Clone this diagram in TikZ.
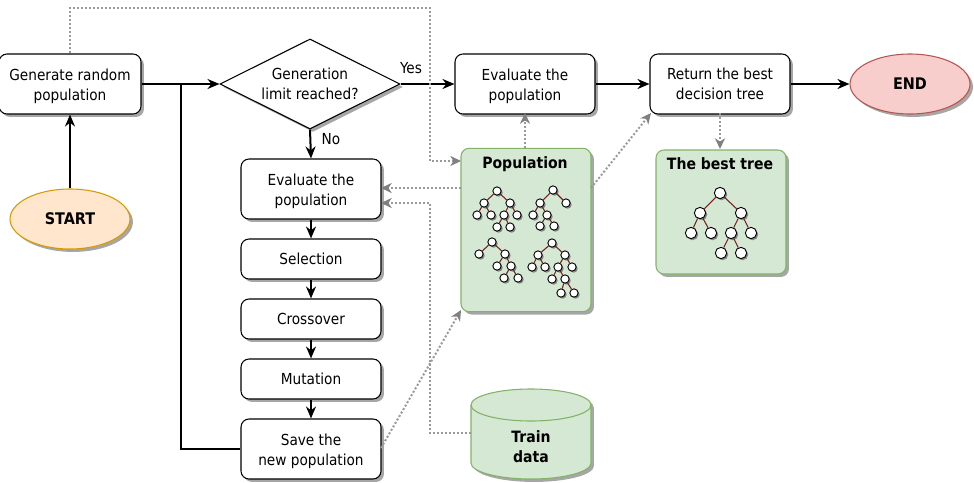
\documentclass[tikz,border=0pt]{standalone}
\usepackage{fontspec}
\setmainfont{DejaVu Sans Condensed}
\usetikzlibrary{arrows.meta,shadows,shapes.geometric}
\definecolor{grn}{HTML}{D5E8D4}
\definecolor{grnb}{HTML}{82B366}
\definecolor{org}{HTML}{FFE6CC}
\definecolor{orgb}{HTML}{D79B00}
\definecolor{rd}{HTML}{F8CECC}
\definecolor{rdb}{HTML}{B85450}
\definecolor{dotc}{HTML}{999999}
\definecolor{tipc}{HTML}{808080}
\definecolor{edgeb}{HTML}{7A1F1F}
\newcommand{\txt}{\fontsize{11.4pt}{15pt}\selectfont}
\newcommand{\bld}{\fontsize{11.7pt}{15pt}\selectfont\bfseries}
\newcommand{\ovl}{\fontsize{12pt}{15pt}\selectfont\bfseries}
\tikzset{
 x=0.75pt,y=-0.75pt,
 shade1/.style={drop shadow={shadow xshift=2.2pt,shadow yshift=-2.2pt,fill=black,opacity=0.35}},
 proc/.style={draw=black,fill=white,rounded corners=6pt,line width=0.8pt,shade1,inner sep=0pt},
 lab/.style={align=center,font=\txt,inner sep=0pt},
 panel/.style={draw=grnb,fill=grn,rounded corners=6pt,line width=0.8pt,shade1,inner sep=0pt},
 oval/.style={ellipse,line width=0.8pt,inner sep=0pt,font=\ovl,shade1},
 flow/.style={-{Stealth[length=9pt,width=7.5pt]},line width=1.5pt,black},
 flowplain/.style={line width=1.5pt,black},
 dots/.style={dotc,line width=1.5pt,dash pattern=on 1.5pt off 1.5pt},
 dotar/.style={dots,-{Stealth[length=8pt,width=7.5pt,color=tipc,fill=tipc,inset=2.4pt]}},
 tn/.style={circle,draw=black,fill=white,line width=0.7pt,minimum size=#1,inner sep=0pt,drop shadow={shadow xshift=1.2pt,shadow yshift=-1.2pt,fill=black,opacity=0.4}},
 te/.style={edgeb,line width=0.8pt},
 ttl/.style={font=\bld,inner sep=0pt,align=center},
}
\begin{document}
\begin{tikzpicture}
\useasboundingbox (0,0) rectangle (974,482);
% boxes
\node[proc,minimum width=106.5pt,minimum height=45pt] (gen) at (70,84) {};
\node[lab] (gent) at (70,86) {Generate random\\population};
\node[oval,draw=orgb,fill=org,minimum width=90pt,minimum height=45pt] (start) at (70,219) {START};
\node[diamond,aspect=2,draw=black,fill=white,line width=0.8pt,inner sep=0pt,minimum width=135pt,minimum height=67.5pt,shade1] (dec) at (310,84) {};
\node[lab] (dect) at (310,84) {Generation\\limit reached?};
\node[proc,minimum width=105pt,minimum height=45pt] (ev1) at (311,189) {};
\node[lab] (ev1t) at (311,191) {Evaluate the\\population};
\node[proc,minimum width=105pt,minimum height=30pt] (sel) at (311,259) {};
\node[lab] (selt) at (311,259) {Selection};
\node[proc,minimum width=105pt,minimum height=30pt] (cro) at (311,319) {};
\node[lab] (crot) at (311,319) {Crossover};
\node[proc,minimum width=105pt,minimum height=30pt] (mut) at (311,379) {};
\node[lab] (mutt) at (311,379) {Mutation};
\node[proc,minimum width=105pt,minimum height=45pt] (sav) at (311,449) {};
\node[lab] (savt) at (311,451) {Save the\\new population};
\node[proc,minimum width=105pt,minimum height=45pt] (ev2) at (525,84) {};
\node[lab] (ev2t) at (525,86) {Evaluate the\\population};
\node[proc,minimum width=105pt,minimum height=45pt] (ret) at (720,84) {};
\node[lab] (rett) at (720,84) {Return the best\\decision tree};
\node[oval,draw=rdb,fill=rd,minimum width=90pt,minimum height=45pt] (endn) at (910,84) {END};
\node[panel,minimum width=97.5pt,minimum height=122.5pt] (pop) at (526,230) {};
\node[ttl] (popt) at (525,164) {Population};
\node[panel,minimum width=97.5pt,minimum height=93pt] (best) at (721,212) {};
\node[ttl] (bestt) at (720,164) {The best tree};
% cylinder
\path[draw=grnb,fill=grn,line width=0.8pt,shade1] (471,405) arc[start angle=180,end angle=360,x radius=60,y radius=16] -- (591,463) arc[start angle=0,end angle=180,x radius=60,y radius=16] -- cycle;
\draw[grnb,line width=0.8pt] (471,405) arc[start angle=180,end angle=0,x radius=60,y radius=16];
\node[ttl] (tr) at (531,447) {Train\\data};
\coordinate (trl) at (471,433);
% solid flows
\draw[flow] (start) -- (gen);
\draw[flow] (gen.east) -- (dec.west);
\draw[flowplain,line join=miter] (sav.west) -- (181,449) -- (181,84);
\draw[flow] (dec.east) -- (ev2.west);
\draw[flow] (ev2) -- (ret);
\draw[flow] (ret) -- (endn);
\draw[flow] (dec.south) -- (ev1.north);
\draw[flow] (ev1) -- (sel);
\draw[flow] (sel) -- (cro);
\draw[flow] (cro) -- (mut);
\draw[flow] (mut) -- (sav);
\node[lab] (yes) at (411,68) {Yes};
\node[lab] (no) at (331,139) {No};
% dotted
\coordinate (c1) at (70,8); \coordinate (c2) at (430,8); \coordinate (c3) at (430,161);
\coordinate (c4) at (430,433); \coordinate (c5) at (430,203);
\coordinate (pl1) at (461,161); \coordinate (pl2) at (461,188); \coordinate (el1) at (381,203); \coordinate (el2) at (381,188);
\coordinate (pb) at (461,310); \coordinate (sr) at (381,448);
\coordinate (rb) at (651,113); \coordinate (pr) at (591,188);
\coordinate (et) at (525,113); \coordinate (pt) at (525,148);
\coordinate (rt) at (720,113); \coordinate (bt) at (720,149);
\draw[dotar] (gen.north) -- (c1) -- (c2) -- (c3) -- (pl1);
\draw[dotar] (pl2) -- (el2);
\draw[dotar] (trl) -- (c4) -- (c5) -- (el1);
\draw[dotar] (sr) -- (pb);
\draw[dotar] (pt) -- (et);
\draw[dotar] (pr) -- (rb);
\draw[dotar] (rt) -- (bt);
% trees
\newcommand{\T}[3]{\node[tn=#3] (#1) at #2 {};}
\def\s{6.2pt}
\T{a1}{(497,191)}{\s}\T{a2}{(484,203)}{\s}\T{a3}{(510,203)}{\s}\T{a4}{(477,215)}{\s}\T{a5}{(491,215)}{\s}\T{a6}{(504,215)}{\s}\T{a7}{(517,215)}{\s}\T{a8}{(497,227)}{\s}\T{a9}{(510,227)}{\s}
\foreach \p/\q in {a1/a2,a1/a3,a2/a4,a2/a5,a3/a6,a3/a7,a6/a8,a6/a9}{\draw[te] (\p) -- (\q);}
\T{b1}{(553,190)}{\s}\T{b2}{(540,203)}{\s}\T{b3}{(566,203)}{\s}\T{b4}{(533,215)}{\s}\T{b5}{(547,215)}{\s}\T{b6}{(540,226)}{\s}\T{b7}{(554,226)}{\s}
\foreach \p/\q in {b1/b2,b1/b3,b2/b4,b2/b5,b5/b6,b5/b7}{\draw[te] (\p) -- (\q);}
\T{c1n}{(492,242)}{\s}\T{c2n}{(479,254)}{\s}\T{c3n}{(505,254)}{\s}\T{c4n}{(497,266)}{\s}\T{c5n}{(511,266)}{\s}\T{c6n}{(504,278)}{\s}\T{c7n}{(518,278)}{\s}
\foreach \p/\q in {c1n/c2n,c1n/c3n,c3n/c4n,c3n/c5n,c5n/c6n,c5n/c7n}{\draw[te] (\p) -- (\q);}
\T{d1}{(552,243)}{\s}\T{d2}{(538,255)}{\s}\T{d3}{(565,255)}{\s}\T{d4}{(532,267)}{\s}\T{d5}{(545,267)}{\s}\T{d6}{(558,267)}{\s}\T{d7}{(572,267)}{\s}\T{d8}{(552,279)}{\s}\T{d9}{(565,279)}{\s}\T{d10}{(561,293)}{\s}\T{d11}{(574,293)}{\s}
\foreach \p/\q in {d1/d2,d1/d3,d2/d4,d2/d5,d3/d6,d3/d7,d6/d8,d6/d9,d9/d10,d9/d11}{\draw[te] (\p) -- (\q);}
\def\s{8.5pt}
\T{e1}{(720,193)}{\s}\T{e2}{(700,213)}{\s}\T{e3}{(741,213)}{\s}\T{e4}{(691,233)}{\s}\T{e5}{(711,233)}{\s}\T{e6}{(731,233)}{\s}\T{e7}{(751,233)}{\s}\T{e8}{(721,253)}{\s}\T{e9}{(741,253)}{\s}
\foreach \p/\q in {e1/e2,e1/e3,e2/e4,e2/e5,e3/e6,e3/e7,e6/e8,e6/e9}{\draw[te] (\p) -- (\q);}
\end{tikzpicture}
\end{document}
